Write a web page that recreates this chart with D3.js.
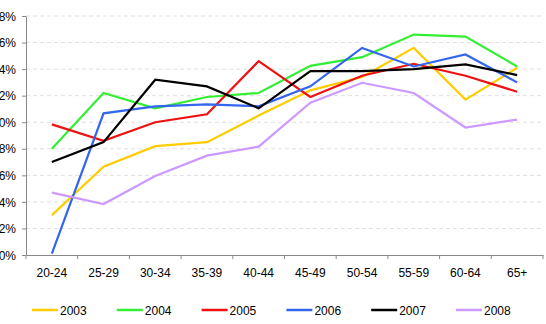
<!DOCTYPE html>
<html><head><meta charset="utf-8">
<script src="https://cdn.jsdelivr.net/npm/d3@7"></script>
<style>body{margin:0;background:#fff}svg{display:block}text{font-family:"Liberation Sans",Arial,sans-serif}</style>
</head><body>
<svg id="c" width="546" height="324"></svg>
<script>
const categories = ["20-24","25-29","30-34","35-39","40-44","45-49","50-54","55-59","60-64","65+"];
const years = ["2003","2004","2005","2006","2007","2008"];
const colors = ["#FFCC00","#33EE33","#EE1111","#3366EE","#000000","#CC99FF"];
const s2003 = [3.0,6.65,8.2,8.5,10.5,12.4,13.4,15.6,11.7,14.1];
const s2004 = [8.0,12.2,11.05,11.9,12.2,14.25,14.9,16.6,16.45,14.2];
const s2005 = [9.84,8.6,10.0,10.6,14.6,11.9,13.5,14.4,13.5,12.3];
const s2006 = [0.1,10.67,11.2,11.35,11.2,12.7,15.6,14.2,15.1,13.0];
const s2007 = [7.0,8.5,13.2,12.7,11.05,13.85,13.85,14.0,14.35,13.55];
const s2008 = [4.7,3.84,5.95,7.48,8.16,11.47,12.97,12.2,9.6,10.2];
const series = [s2003,s2004,s2005,s2006,s2007,s2008];
const yTicks = [0,2,4,6,8,10,12,14,16,18];

const svg = d3.select("#c");
const x0 = 26, x1 = 543, yTop = 16, yBot = 255;
const x = d3.scaleBand().domain(categories).range([x0, x1]);
const y = d3.scaleLinear().domain([0, 18]).range([yBot, yTop]);

// gridlines
svg.append("g").selectAll("line").data(yTicks.filter(d => d > 0)).join("line")
  .attr("x1", x0).attr("x2", x1).attr("y1", d => y(d)).attr("y2", d => y(d))
  .attr("stroke", "#e0e0e0").attr("stroke-dasharray", "4,3").attr("stroke-width", 1);

// y axis
const ya = svg.append("g").attr("transform", `translate(${x0},0)`)
  .call(d3.axisLeft(y).tickValues(yTicks).tickFormat(d => d + "%").tickSize(4).tickSizeOuter(0));
ya.select(".domain").attr("stroke", "#888");
ya.selectAll(".tick line").attr("stroke", "#888");
ya.selectAll("text").attr("font-size", 12).attr("fill", "#000").attr("x", -10).attr("dy", "0.35em");

// x axis
const xa = svg.append("g").attr("transform", `translate(0,${yBot})`)
  .call(d3.axisBottom(x).tickSize(0).tickSizeOuter(0));
xa.select(".domain").attr("stroke", "#888");
xa.selectAll("text").attr("font-size", 12).attr("fill", "#000").attr("dy", "0").attr("y", 22);
// boundary ticks
svg.append("g").selectAll("line").data(d3.range(categories.length + 1)).join("line")
  .attr("x1", i => x0 + i * x.bandwidth()).attr("x2", i => x0 + i * x.bandwidth())
  .attr("y1", yBot).attr("y2", yBot + 4).attr("stroke", "#888");

// lines
const line = d3.line().x((d, i) => x(categories[i]) + x.bandwidth() / 2).y(d => y(d));
svg.append("g").selectAll("path").data(series).join("path")
  .attr("d", d => line(d)).attr("fill", "none")
  .attr("stroke", (d, i) => colors[i]).attr("stroke-width", 2.2).attr("stroke-linejoin", "miter");

// legend
const lg = svg.append("g").selectAll("g").data(years).join("g")
  .attr("transform", (d, i) => `translate(${32 + i * 84.8},310)`);
lg.append("line").attr("x1", 0).attr("x2", 26).attr("y1", 0).attr("y2", 0)
  .attr("stroke", (d, i) => colors[i]).attr("stroke-width", 2.5);
lg.append("text").attr("x", 28).attr("y", 4.5).attr("font-size", 12).text(d => d);
</script>
</body></html>
